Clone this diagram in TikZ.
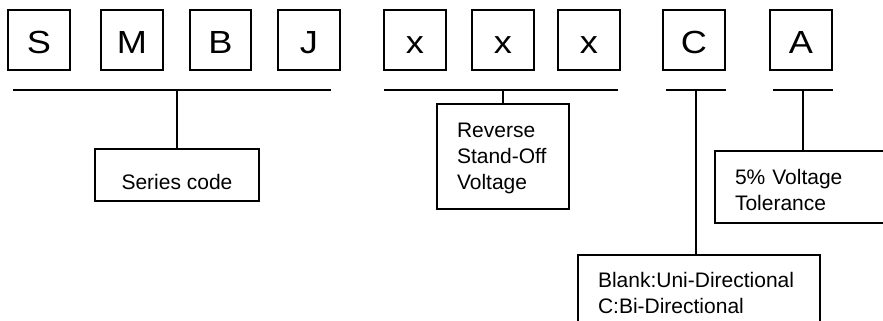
\documentclass[tikz,border=0pt]{standalone}
\usepackage{fontspec}
\setmainfont{Liberation Sans}
\newfontfamily\bigletters[FakeStretch=1.13]{Liberation Sans}
\usetikzlibrary{calc}

\tikzset{
  letter/.style={draw, rectangle, line width=1.5pt, minimum width=46pt, minimum height=45pt,
    inner sep=0pt, text height=21pt, text depth=0pt, font=\bigletters\fontsize{24pt}{28pt}\selectfont},
  infobox/.style={draw, rectangle, line width=1.5pt, inner xsep=15pt, inner ysep=0pt,
    align=left, anchor=north west, font=\fontsize{15.75pt}{19.5pt}\selectfont},
  bar/.style={line width=1.7pt},
  stem/.style={line width=1.5pt},
}

\begin{document}
\begin{tikzpicture}[x=0.75pt, y=-0.75pt]
\useasboundingbox (0,0) rectangle (883,321);
\clip (0,0) rectangle (883,321);

% Letters
\node[letter] (s) at (39,40) {S};
\node[letter] (m) at (132,40) {M};
\node[letter] (b) at (220.5,40) {B};
\node[letter] (j) at (309,40) {J};
\node[letter] (x1) at (415,40) {x};
\node[letter] (x2) at (503,40) {x};
\node[letter] (x3) at (589,40) {x};
\node[letter] (c) at (694,40) {C};
\node[letter] (a) at (801,40) {A};

% Bars
\coordinate (seriesl) at (13,90);
\coordinate (seriesr) at (331,90);
\coordinate (voltl) at (384,90);
\coordinate (voltr) at (618,90);
\coordinate (dirl) at (666,90);
\coordinate (dirr) at (726,90);
\coordinate (toll) at (773,90);
\coordinate (tolr) at (833,90);
\draw[bar] (seriesl) -- (seriesr);
\draw[bar] (voltl) -- (voltr);
\draw[bar] (dirl) -- (dirr);
\draw[bar] (toll) -- (tolr);

% Descriptions
\node[infobox, anchor=north, align=center, minimum width=123pt,
  text height=30.4pt, text depth=8.6pt] (series) at (177,148) {Series code};
\node[infobox, text width=69pt, text height=25pt, text depth=53.6pt] (volt) at (436,103)
  {Reverse\\Stand-Off\\Voltage};
\node[infobox, text width=150pt, text height=25pt, text depth=28.9pt] (tol) at (714,150)
  {5\% Voltage\\Tolerance};
\node[infobox, text width=151.5pt, text height=24.4pt, text depth=60pt] (dir) at (577,254)
  {Blank:Uni-Directional\\C:Bi-Directional};

% Stems
\coordinate (dirmid) at ($(dirl)!0.5!(dirr)$);
\coordinate (tolmid) at ($(toll)!0.5!(tolr)$);
\draw[stem] (series.north) -- (series.north |- seriesl);
\draw[stem] (volt.north) -- (volt.north |- voltl);
\draw[stem] (dirmid) -- (dirmid |- dir.north);
\draw[stem] (tolmid) -- (tolmid |- tol.north);
\end{tikzpicture}
\end{document}
